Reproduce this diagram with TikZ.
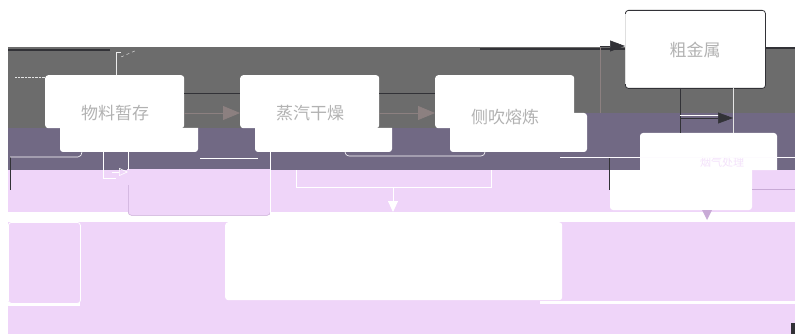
\documentclass[tikz,border=0pt]{standalone}
\usepackage{fontspec}
\newfontfamily\cjk{Noto Sans CJK SC}
\usetikzlibrary{arrows.meta}
\definecolor{bandgray}{RGB}{108,108,108}
\definecolor{bandpurple}{RGB}{113,105,132}
\definecolor{lilac}{RGB}{239,213,249}
\definecolor{lilacedge}{RGB}{200,170,214}
\definecolor{txtgray}{RGB}{178,178,178}
\definecolor{arrowgray}{RGB}{140,128,128}
\definecolor{darkline}{RGB}{50,50,55}
\begin{document}
\begin{tikzpicture}[x=1pt,y=-1pt,
  procbox/.style={fill=white, rounded corners=3pt, inner sep=0pt, anchor=north west},
  proctext/.style={font=\cjk\fontsize{17}{19}\selectfont, text=txtgray, inner sep=0pt},
  flowarrow/.style={draw=arrowgray, line width=0.8pt, -{Triangle[length=17pt,width=14pt]}},
  darkarrow/.style={draw=darkline, line width=0.6pt, -{Triangle[length=15pt,width=11pt]}},
  whiteline/.style={draw=white, line width=0.9pt},
  whitearrow/.style={draw=white, line width=0.9pt, -{Triangle[length=11pt,width=10pt]}}
]
\useasboundingbox (0,0) rectangle (795,334);
\fill[white] (0,0) rectangle (795,334);
% background bands
\fill[bandgray] (8,47) rectangle (795,128);
\fill[bandpurple] (8,128) rectangle (795,170);
\fill[bandpurple] (574,113) rectangle (795,128);
\fill[lilac] (8,170) rectangle (795,334);
\fill[white] (8,212) rectangle (795,222);
\fill[white] (8,302) rectangle (80,306);
\fill[white] (540,301) rectangle (795,304);
\fill[darkline] (791,323) rectangle (795,334);
% dark top edge lines
\draw[darkline, line width=1.2pt] (8,50) -- (110,50);
\draw[darkline, line width=1.6pt] (480,49) -- (625,49);
\draw[darkline, line width=1.2pt] (765,48) -- (795,48);
\draw[white!80!gray, densely dotted] (15,77) -- (45,77);
\draw[white!85!gray] (116,75) -- (116,52) -- (121,52);
\draw[white!85!gray, dashed] (121,57) -- (137,50);

% lower (shifted) parts of the boxes
\fill[white] (60,128) [rounded corners=3pt] -- (60,152) -- (198,152) [sharp corners] -- (198,128) -- cycle;
\fill[white] (255,128) [rounded corners=3pt] -- (255,152) -- (392,152) [sharp corners] -- (392,128) -- cycle;
\fill[white] (450,113) [rounded corners=3pt] -- (450,152) -- (587,152) -- (587,113) -- cycle;
\fill[white] (640,170) [rounded corners=3pt] -- (640,133) -- (777,133) [sharp corners] -- (777,170) -- cycle;
\fill[white] (610,170) [rounded corners=3pt] -- (610,210) -- (752,210) [sharp corners] -- (752,170) -- cycle;

% process boxes
\node[procbox, minimum width=139pt, minimum height=53pt] (store) at (45,75) {};
\node[procbox, minimum width=139pt, minimum height=53pt] (dry) at (240,75) {};
\node[procbox, minimum width=139pt, minimum height=53pt] (smelt) at (435,75) {};
\node[procbox, draw=darkline, line width=0.8pt, minimum width=140pt, minimum height=78pt] (metal) at (625,10) {};
\draw[white!75!gray, line width=0.9pt] (625.5,14) -- (625.5,84);
\node[procbox, minimum width=337pt, minimum height=78pt] (big) at (225,222) {};
\node[procbox, fill=lilac, draw=white, line width=0.8pt, minimum width=72pt, minimum height=81pt] (leftbox) at (8,222) {};
\node[procbox, fill=lilac, draw=lilacedge, line width=0.5pt, minimum width=142pt, minimum height=45pt] (midbox) at (128,170) {};
\fill[lilac] (127,169) rectangle (271,185);

% texts
\node[proctext] (t1) at (115,113) {物料暂存};
\node[proctext] (t2) at (310,113) {蒸汽干燥};
\node[proctext] (t3) at (505,117) {侧吹熔炼};
\node[proctext] (t4) at (695,50) {粗金属};
\node[proctext, text=lilac!70!white, font=\cjk\fontsize{11}{13}\selectfont] (t5) at (722,162) {烟气处理};

% connectors
\coordinate (a1) at (184,113);
\coordinate (a2) at (240,113);
\draw[darkline, line width=0.4pt] (184,93) -- (240,93);
\draw[flowarrow] (a1) -- (a2);
\coordinate (b1) at (379,113);
\coordinate (b2) at (435,113);
\draw[darkline, line width=0.4pt] (379,93) -- (435,93);
\draw[flowarrow] (b1) -- (b2);
\coordinate (c0) at (600,113);
\draw[arrowgray, line width=0.8pt] (c0) -- (600,47);
\draw[darkarrow] (600,46) -- (metal.west |- 0,46);
\coordinate (d1) at (680,88);
\coordinate (d2) at (733,88);
\draw[darkline, line width=0.5pt] (d1) -- (680,133);
\draw[white!80!gray, line width=0.5pt] (d2) -- (733,133);
\draw[white, line width=0.6pt] (680,115) -- (720,115);
\draw[darkarrow] (680,118) -- (733,118);
% bracket into big box
\coordinate (bk) at (393,212);
\draw[whiteline] (296,170) -- (296,187) -- (491,187) -- (491,170);
\draw[whitearrow] (393,187) -- (bk);
\draw[white, line width=0.6pt] (345,152) to[out=-90,in=180] (349,156) -- (481,156) to[out=0,in=-90] (485,152);
\draw[white, line width=0.6pt] (200,158) -- (258,158);
\draw[white, line width=0.6pt] (270,152) -- (270,215);
% left small connectors
\draw[darkline, line width=1pt] (10,157) -- (10,190);
\draw[white, line width=0.6pt] (10,157) -- (78,157) to[out=0,in=-90] (82,152);
\draw[white, line width=0.6pt] (103,152) -- (103,178) -- (116,178);
\draw[white, line width=0.6pt] (128,152) -- (128,170);
\draw[white, line width=0.6pt, -{Triangle[open,length=9pt,width=8pt]}] (112,172) -- (128,172);
% right lower connectors
\draw[darkline, line width=0.8pt] (609,157) -- (609,190);
\draw[white!90!lilac, line width=0.6pt] (560,157) -- (795,157);
\draw[lilacedge, line width=0.5pt] (752,189) -- (795,189);
\draw[white, line width=0.6pt] (707,190) -- (707,209);
\draw[draw=none, fill=lilacedge] (702,210) -- (712,210) -- (707,220) -- cycle;
\end{tikzpicture}
\end{document}
